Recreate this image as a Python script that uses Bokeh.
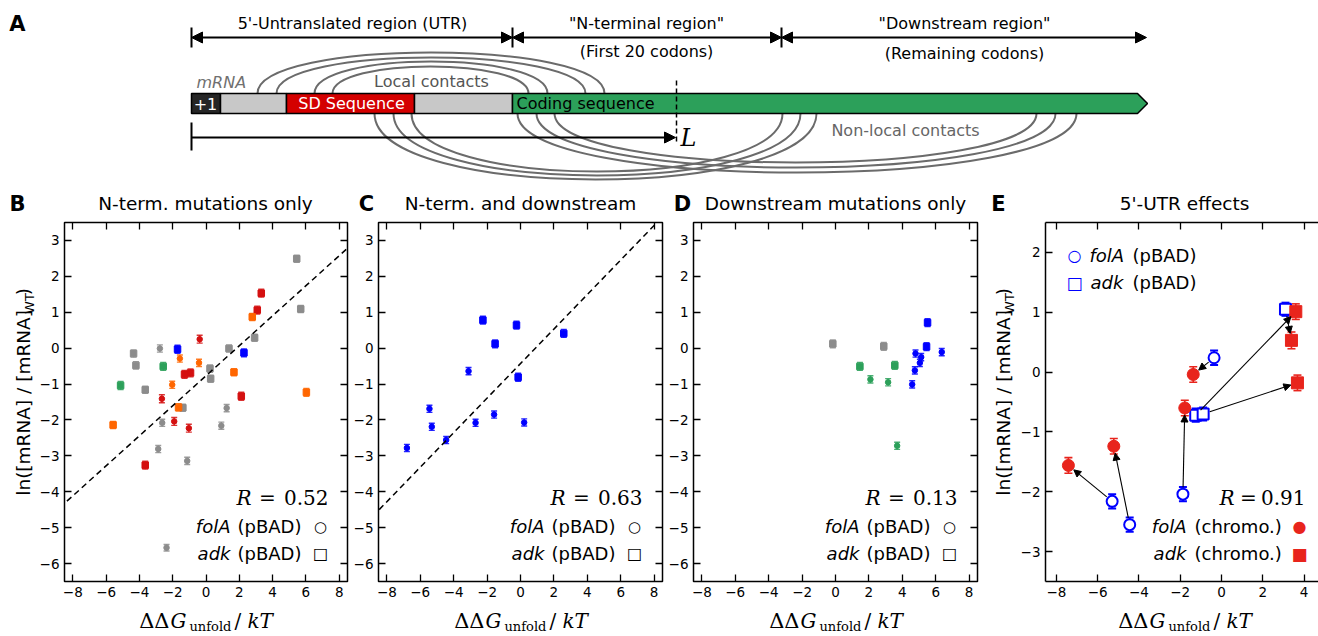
import math
from bokeh.plotting import figure
from bokeh.models import (Range1d, FixedTicker, LinearAxis, Label, Arrow, NormalHead,
                          ColumnDataSource, Slope)
from bokeh.layouts import column, row
from bokeh.embed import file_html
from bokeh.resources import INLINE
from bokeh.core.properties import field

# ------------------------------------------------------------------ data
# Panel B: N-terminal mutations only
B_x = [5.45, 5.69, 3.32, 3.08, 2.78, 2.92, 2.28, 1.38, 1.68, 2.12, 6.03, 1.24, 0.92,
       0.24, 0.28, -0.38, -0.42, -0.93, -1.29, -1.57, -1.71, -1.39, -1.65, -1.03,
       -1.13, -1.91, -2.03, -2.57, -2.77, -2.65, -2.63, -2.87, -2.37, -3.65, -3.65,
       -4.21, -4.35, -5.13, -5.58]
B_y = [2.49, 1.09, 1.53, 1.06, 0.87, 0.29, -0.13, -0.01, -0.67, -1.34, -1.23, -1.67, -2.16,
       -0.57, -0.85, 0.25, -0.41, -0.69, -0.73, -0.29, -0.03, -1.66, -1.65, -2.23,
       -3.14, -2.04, -1.02, -0.51, -0.01, -1.41, -2.08, -2.81, -5.56, -3.26, -1.16,
       -0.48, -0.15, -1.04, -2.14]
B_err = [0.10, 0.10, 0.11, 0.11, 0.10, 0.10, 0.11, 0.10, 0.10, 0.11, 0.11, 0.10, 0.10,
         0.10, 0.10, 0.11, 0.10, 0.11, 0.11, 0.10, 0.11, 0.10, 0.10, 0.11,
         0.10, 0.11, 0.10, 0.11, 0.10, 0.11, 0.10, 0.10, 0.09, 0.11, 0.10,
         0.10, 0.10, 0.11, 0.10]
B_group = ["gray", "gray", "red", "red", "orange", "gray", "blue", "gray", "orange", "red",
           "orange", "gray", "gray", "gray", "gray", "red", "orange", "red", "red", "orange",
           "blue", "gray", "orange", "red", "gray", "red", "orange", "green", "gray", "red",
           "gray", "gray", "gray", "red", "gray", "gray", "gray", "green", "orange"]
B_gene = ["adk", "adk", "adk", "adk", "adk", "adk", "adk", "adk", "adk", "adk", "adk",
          "folA", "folA", "adk", "adk", "folA", "folA", "adk", "adk", "folA", "adk", "adk",
          "adk", "folA", "folA", "folA", "folA", "adk", "folA", "folA", "folA", "folA",
          "folA", "adk", "adk", "adk", "adk", "adk", "adk"]
B_fit = (0.418, -0.77)
B_R = "0.52"

# Panel C: N-terminal and downstream
C_x = [-2.25, -0.24, -1.52, 2.59, -3.11, -0.14, -5.45, -5.31, -2.69, -1.58, 0.22, -4.45, -6.80]
C_y = [0.78, 0.64, 0.12, 0.41, -0.64, -0.81, -1.69, -2.19, -2.08, -1.85, -2.07, -2.56, -2.78]
C_err = [0.11, 0.11, 0.11, 0.11, 0.10, 0.11, 0.10, 0.10, 0.10, 0.10, 0.10, 0.10, 0.10]
C_group = ["blue"] * 13
C_gene = ["adk", "adk", "adk", "adk", "folA", "adk", "folA", "folA", "folA", "folA",
          "folA", "folA", "folA"]
C_fit = (0.481, -0.43)
C_R = "0.63"

# Panel D: downstream mutations only
D_x = [-0.16, 2.89, 1.46, 2.09, 3.15, 3.55, 3.69, 5.51, 5.45, 6.36, 4.79, 5.13, 5.05, 4.75, 4.59]
D_y = [0.12, 0.05, -0.51, -0.87, -0.95, -0.48, -2.72, 0.71, 0.04, -0.11, -0.15, -0.25,
       -0.41, -0.62, -1.01]
D_err = [0.11, 0.11, 0.11, 0.10, 0.10, 0.11, 0.10, 0.11, 0.11, 0.10, 0.10, 0.10, 0.10,
         0.10, 0.10]
D_group = ["gray", "gray", "green", "green", "green", "green", "green", "blue", "blue",
           "blue", "blue", "blue", "blue", "blue", "blue"]
D_gene = ["adk", "adk", "adk", "folA", "folA", "adk", "folA", "adk", "adk", "folA", "folA",
          "folA", "folA", "folA", "folA"]
D_R = "0.13"

# Panel E: 5'-UTR effects (pBAD -> chromosomal, paired by index)
E_folA_pbad_x = [-5.30, -4.45, -1.87, -0.36]
E_folA_pbad_y = [-2.16, -2.55, -2.04, 0.24]
E_folA_chromo_x = [-7.42, -5.22, -1.78, -1.37]
E_folA_chromo_y = [-1.56, -1.24, -0.60, -0.04]
E_adk_pbad_x = [-1.25, -0.89, 3.10]
E_adk_pbad_y = [-0.72, -0.70, 1.05]
E_adk_chromo_x = [3.60, 3.68, 3.39]
E_adk_chromo_y = [1.01, -0.18, 0.53]
E_pbad_err = [0.12, 0.12, 0.12, 0.12, 0.11, 0.11, 0.11]
E_chromo_err = [0.13, 0.13, 0.13, 0.13, 0.13, 0.13, 0.14]
E_R = "0.91"

XTICKS = [-8, -6, -4, -2, 0, 2, 4, 6, 8]
YTICKS = [-6, -5, -4, -3, -2, -1, 0, 1, 2, 3]
E_XTICKS = [-8, -6, -4, -2, 0, 2, 4]
E_YTICKS = [-3, -2, -1, 0, 1, 2]

PANEL_LETTERS = ["B", "C", "D", "E"]
PANEL_TITLES = ["N-term. mutations only", "N-term. and downstream",
                "Downstream mutations only", "5'-UTR effects"]

# ------------------------------------------------------------------ styles / layout
COLORS = {"gray": "#8c8c8c", "red": "#d41010", "orange": "#ff6600",
          "green": "#2ca05a", "blue": "#0000ff"}
MARKERS = {"folA": "circle", "adk": "square"}
MSIZE = {"folA": 5.5, "adk": 6.5}
E_BLUE = "#0000ff"
E_RED = "#e8241c"
SANS = "DejaVu Sans"
SERIF = "DejaVu Serif"

W = 1318
HEAD_H = 220          # diagram + panel titles
ROW_H = 385           # plot frames + tick labels
FOOT_H = 31           # x-axis titles
FRAME_H = 359
TOP = 2
BOTTOM = ROW_H - TOP - FRAME_H
FRAME_LEFTS = [63, 378, 693, 1043]
LETTER_X = [17, 366, 682, 998]
TITLE_X = [205, 520, 835, 1184]
TITLE_Y = 203


def minus(v):
    return str(v).replace("-", "\u2212")


def lab(p, x, y, text, size, font=SANS, style="normal", color="black", align="left",
        baseline="middle", units="screen", angle=0.0):
    p.add_layout(Label(x=x, y=y, x_units=units, y_units=units, text=text,
                       text_font_size=f"{size}px", text_font=font, text_font_style=style,
                       text_color=color, text_align=align, text_baseline=baseline,
                       angle=angle))


def blank_fig(width, height, xr, yr):
    p = figure(width=width, height=height, x_range=Range1d(*xr), y_range=Range1d(*yr),
               output_backend="svg", toolbar_location=None, min_border=0,
               x_axis_type=None, y_axis_type=None)
    p.grid.visible = False
    p.outline_line_color = None
    p.background_fill_color = "white"
    p.border_fill_color = "white"
    return p


def make_fig(width, left, right, xr, yr, xticks, yticks, spine_right=True):
    p = figure(width=width, height=ROW_H, x_range=Range1d(*xr), y_range=Range1d(*yr),
               output_backend="svg", toolbar_location=None,
               min_border_left=left, min_border_right=right,
               min_border_top=TOP, min_border_bottom=BOTTOM)
    p.grid.visible = False
    p.background_fill_color = "white"
    p.border_fill_color = "white"
    if spine_right:
        p.outline_line_color = "black"
        p.outline_line_width = 1.5
    else:
        p.outline_line_color = None
    for ax, ticks in ((p.xaxis[0], xticks), (p.yaxis[0], yticks)):
        ax.ticker = FixedTicker(ticks=ticks)
        ax.major_label_overrides = {t: minus(t) for t in ticks}
        ax.major_tick_in = 7
        ax.major_tick_out = 0
        ax.major_tick_line_width = 1.3
        ax.minor_tick_line_color = None
        ax.axis_line_color = None if spine_right else "black"
        ax.axis_line_width = 1.5
        ax.major_label_text_font = SANS
        ax.major_label_text_font_size = "13.5px"
        ax.major_label_text_color = "black"
        ax.major_label_standoff = 5
    extra = [("above", xticks)]
    if spine_right:
        extra.append(("right", yticks))
    for loc, ticks in extra:
        ax = LinearAxis(ticker=FixedTicker(ticks=ticks), major_tick_in=7, major_tick_out=0,
                        major_tick_line_width=1.3, minor_tick_line_color=None,
                        major_label_overrides={t: "" for t in ticks},
                        major_label_text_font_size="0px", major_label_standoff=0,
                        axis_line_color=None if spine_right else "black",
                        axis_line_width=1.5)
        p.add_layout(ax, loc)
    return p


def rlabel(p, rtext, rx=172, right=264):
    lab(p, rx, 84, "R", 20, font=SERIF, style="italic")
    lab(p, 203, 84, "=", 20, font=SERIF, align="center")
    lab(p, right, 84, rtext, 20, font=SERIF, align="right")


def legend_pbad(p):
    lab(p, 166, 55, "folA", 18, style="italic", align="right")
    lab(p, 173, 55, "(pBAD)", 18)
    lab(p, 256, 55, "\u25cb", 15, style="bold", align="center")
    lab(p, 166, 28, "adk", 18, style="italic", align="right")
    lab(p, 173, 28, "(pBAD)", 18)
    lab(p, 256, 28, "\u25a1", 16, style="bold", align="center")


def scatter_panel(p, xs, ys, errs, groups, genes):
    src = ColumnDataSource(dict(
        x=xs, y=ys,
        lo=[y - e for y, e in zip(ys, errs)], hi=[y + e for y, e in zip(ys, errs)],
        color=[COLORS[g] for g in groups],
        marker=[MARKERS[g] for g in genes],
        size=[MSIZE[g] for g in genes]))
    p.segment(x0="x", y0="lo", x1="x", y1="hi", line_color="color", line_width=1.4,
              line_alpha=0.85, source=src)
    for col in ("lo", "hi"):
        p.scatter(x="x", y=col, marker="dash", size=6, line_color="color",
                  line_width=1.4, line_alpha=0.85, source=src)
    p.scatter(x="x", y="y", marker=field("marker"), size="size", fill_color="color",
              line_color="color", line_width=1, source=src)


XR = (-8.5, 8.5)
YR = (-6.5, 3.5)

# ------------------------------------------------------------------ y-axis title strips
def ylabel_fig(x0, x1, xc):
    p = blank_fig(x1 - x0, ROW_H, (x0, x1), (HEAD_H + ROW_H, HEAD_H))
    a = math.pi / 2
    lab(p, xc, 513, "ln([mRNA] / [mRNA]", 18.5, angle=a, units="data")
    lab(p, xc + 6, 318, "WT", 13, angle=a, units="data")
    lab(p, xc, 298, ")", 18.5, angle=a, units="data")
    return p


yB = ylabel_fig(0, 36, 22.5)
yE = ylabel_fig(985, 1017, 1002.5)

# ------------------------------------------------------------------ panel B
pB = make_fig(313, 27, 2, XR, YR, XTICKS, YTICKS)
pB.add_layout(Slope(gradient=B_fit[0], y_intercept=B_fit[1], line_color="black",
                    line_width=1.5, line_dash="6 4"))
scatter_panel(pB, B_x, B_y, B_err, B_group, B_gene)
rlabel(pB, B_R)
legend_pbad(pB)

# ------------------------------------------------------------------ panel C
pC = make_fig(316, 29, 3, XR, YR, XTICKS, YTICKS)
pC.add_layout(Slope(gradient=C_fit[0], y_intercept=C_fit[1], line_color="black",
                    line_width=1.5, line_dash="6 4"))
scatter_panel(pC, C_x, C_y, C_err, C_group, C_gene)
rlabel(pC, C_R)
legend_pbad(pC)

# ------------------------------------------------------------------ panel D
pD = make_fig(320, 28, 8, XR, YR, XTICKS, YTICKS)
scatter_panel(pD, D_x, D_y, D_err, D_group, D_gene)
rlabel(pD, D_R)
legend_pbad(pD)

# ------------------------------------------------------------------ panel E
E_XR = (-8.53, 4.70)
E_YR = (-3.5, 2.5)
E_FRAME_W = 275
pE = make_fig(301, 26, 0, E_XR, E_YR, E_XTICKS, E_YTICKS, spine_right=False)

pb_x = E_folA_pbad_x + E_adk_pbad_x
pb_y = E_folA_pbad_y + E_adk_pbad_y
ch_x = E_folA_chromo_x + E_adk_chromo_x
ch_y = E_folA_chromo_y + E_adk_chromo_y
pb_marker = ["circle"] * len(E_folA_pbad_x) + ["square"] * len(E_adk_pbad_x)
ch_marker = ["circle"] * len(E_folA_chromo_x) + ["square"] * len(E_adk_chromo_x)

src_pb = ColumnDataSource(dict(x=pb_x, y=pb_y, marker=pb_marker,
                               lo=[y - e for y, e in zip(pb_y, E_pbad_err)],
                               hi=[y + e for y, e in zip(pb_y, E_pbad_err)]))
src_ch = ColumnDataSource(dict(x=ch_x, y=ch_y, marker=ch_marker,
                               lo=[y - e for y, e in zip(ch_y, E_chromo_err)],
                               hi=[y + e for y, e in zip(ch_y, E_chromo_err)]))

for src, col, lw in ((src_pb, E_BLUE, 2), (src_ch, E_RED, 1.6)):
    pE.segment(x0="x", y0="lo", x1="x", y1="hi", line_color=col, line_width=lw, source=src)
    for c in ("lo", "hi"):
        pE.scatter(x="x", y=c, marker="dash", size=8, line_color=col, line_width=lw,
                   source=src)
pE.scatter(x="x", y="y", marker=field("marker"), size=11, fill_color="white",
           line_color=E_BLUE, line_width=2, source=src_pb)
pE.scatter(x="x", y="y", marker=field("marker"), size=12, fill_color=E_RED,
           line_color=E_RED, line_width=1, source=src_ch)

# arrows from pBAD to chromosomal value, shortened by a few pixels at each end
kx = E_FRAME_W / (E_XR[1] - E_XR[0])
ky = FRAME_H / (E_YR[1] - E_YR[0])
axs, ays, axe, aye = [], [], [], []
for x0, y0, x1, y1 in zip(pb_x, pb_y, ch_x, ch_y):
    L = math.hypot((x1 - x0) * kx, (y1 - y0) * ky)
    f0, f1 = 7.0 / L, 7.0 / L
    axs.append(x0 + (x1 - x0) * f0)
    ays.append(y0 + (y1 - y0) * f0)
    axe.append(x1 - (x1 - x0) * f1)
    aye.append(y1 - (y1 - y0) * f1)
pE.add_layout(Arrow(end=NormalHead(size=7, fill_color="black", line_color="black",
                                   line_width=1),
                    x_start="xs", y_start="ys", x_end="xe", y_end="ye",
                    line_color="black", line_width=1.1,
                    source=ColumnDataSource(dict(xs=axs, ys=ays, xe=axe, ye=aye))))

rlabel(pE, E_R, rx=174, right=260)
# top-left legend
lab(pE, 29, 326, "\u25cb", 16, style="bold", color=E_BLUE, align="center")
lab(pE, 44, 326, "folA", 18, style="italic")
lab(pE, 87, 326, "(pBAD)", 18)
lab(pE, 29, 299, "\u25a1", 17, style="bold", color=E_BLUE, align="center")
lab(pE, 45, 299, "adk", 18, style="italic")
lab(pE, 87, 299, "(pBAD)", 18)
# bottom-right legend
lab(pE, 141, 55, "folA", 18, style="italic", align="right")
lab(pE, 149, 55, "(chromo.)", 18)
lab(pE, 254, 55, "\u25cf", 16, color=E_RED, align="center")
lab(pE, 141, 28, "adk", 18, style="italic", align="right")
lab(pE, 149, 28, "(chromo.)", 18)
lab(pE, 254, 28, "\u25a0", 17, color=E_RED, align="center")

# ------------------------------------------------------------------ x-axis title strip
pF = blank_fig(W, FOOT_H, (0, W), (HEAD_H + ROW_H + FOOT_H, HEAD_H + ROW_H))
for fl, dx in zip(FRAME_LEFTS, [0, 0, 0, -1]):
    x0 = fl + dx
    lab(pF, x0 + 106, 620, "\u0394\u0394", 21, font=SERIF, align="right", units="data")
    lab(pF, x0 + 107, 620, "G", 20, font=SERIF, style="italic", units="data")
    lab(pF, x0 + 126, 626, "unfold", 13, font=SERIF, units="data")
    lab(pF, x0 + 171, 620, "/", 20, font=SERIF, units="data")
    lab(pF, x0 + 184, 620, "kT", 20, font=SERIF, style="italic", units="data")

# ------------------------------------------------------------------ panel A (diagram) + titles
# geometry of the schematic, in page pixel units
BAR_TOP, BAR_BOT = 93, 113
SEG_LEFT = [191, 220, 286, 414]
SEG_RIGHT = [220, 286, 414, 512]
SEG_COLORS = ["#262626", "#c8c8c8", "#d40000", "#c8c8c8"]
CDS_X = [512, 1137, 1147, 1137, 512]
CDS_Y = [93, 93, 103, 113, 113]
UP_L = [257, 276, 314, 332]
UP_R = [604, 585, 547, 528]
UP_TOP = [52, 57, 61, 66]
LO_L = [374, 393, 411, 517, 536, 554]
LO_R = [816, 800, 782, 1076, 1055, 1036]
LO_BOT = [179, 175, 171, 172, 167, 162]
REGION_X = [191, 512, 781, 1146]

pA = blank_fig(W, HEAD_H, (0, W), (HEAD_H, 0))

arc_col = "#6b6b6b"
pA.bezier(x0=UP_L, y0=[BAR_TOP] * 4, x1=UP_R, y1=[BAR_TOP] * 4,
          cx0=UP_L, cy0=[BAR_TOP - (BAR_TOP - t) * 4 / 3 for t in UP_TOP],
          cx1=UP_R, cy1=[BAR_TOP - (BAR_TOP - t) * 4 / 3 for t in UP_TOP],
          line_color=arc_col, line_width=2)
pA.bezier(x0=LO_L, y0=[BAR_BOT] * 6, x1=LO_R, y1=[BAR_BOT] * 6,
          cx0=LO_L, cy0=[BAR_BOT + (b - BAR_BOT) * 4 / 3 for b in LO_BOT],
          cx1=LO_R, cy1=[BAR_BOT + (b - BAR_BOT) * 4 / 3 for b in LO_BOT],
          line_color=arc_col, line_width=2)

pA.quad(left=SEG_LEFT, right=SEG_RIGHT, top=BAR_TOP, bottom=BAR_BOT,
        fill_color=SEG_COLORS, line_color="black", line_width=1.5)
pA.patch(x=CDS_X, y=CDS_Y, fill_color="#2ca05a", line_color="black", line_width=1.5)
pA.segment(x0=676, y0=80, x1=676, y1=143, line_color="black", line_width=1.5,
           line_dash="5 3")

# region arrows
pA.segment(x0=REGION_X[:3], y0=27, x1=REGION_X[:3], y1=47, line_color="black",
           line_width=2)
pA.add_layout(Arrow(start=NormalHead(size=11, fill_color="black", line_color="black"),
                    end=NormalHead(size=11, fill_color="black", line_color="black"),
                    x_start="xs", y_start="ys", x_end="xe", y_end="ye",
                    line_color="black", line_width=2,
                    source=ColumnDataSource(dict(xs=REGION_X[:3], ys=[37] * 3,
                                                 xe=REGION_X[1:], ye=[37] * 3))))
pA.segment(x0=191, y0=122, x1=191, y1=150, line_color="black", line_width=2)
pA.add_layout(Arrow(end=NormalHead(size=11, fill_color="black", line_color="black"),
                    x_start=191, y_start=137, x_end=675, y_end=137,
                    line_color="black", line_width=2))

lab(pA, 17, 23, "A", 21, style="bold", align="center", units="data")
lab(pA, 352, 23, "5'-Untranslated region (UTR)", 16, align="center", units="data")
lab(pA, 646, 23, '"N-terminal region"', 16, align="center", units="data")
lab(pA, 646, 51, "(First 20 codons)", 16, align="center", units="data")
lab(pA, 964, 23, '"Downstream region"', 16, align="center", units="data")
lab(pA, 964, 53, "(Remaining codons)", 16, align="center", units="data")
lab(pA, 196, 82, "mRNA", 16, style="italic", color="#707070", units="data")
lab(pA, 431, 81, "Local contacts", 16, align="center", color="#555555", units="data")
lab(pA, 905, 130, "Non-local contacts", 16, align="center", color="#666666", units="data")
lab(pA, 205, 103, "+1", 16, align="center", color="white", units="data")
lab(pA, 351, 103, "SD Sequence", 16, align="center", color="white", units="data")
lab(pA, 516, 103, "Coding sequence", 16, color="black", units="data")
lab(pA, 680, 137, "L", 24, font=SERIF, style="italic", units="data")

for letter, lx, title, tx in zip(PANEL_LETTERS, LETTER_X, PANEL_TITLES, TITLE_X):
    lab(pA, lx, TITLE_Y, letter, 21, style="bold", align="center", units="data")
    lab(pA, tx, TITLE_Y, title, 18.5, align="center", units="data")

layout = column(pA, row(yB, pB, pC, pD, yE, pE), pF)
open("out.html", "w").write(file_html(layout, INLINE))
